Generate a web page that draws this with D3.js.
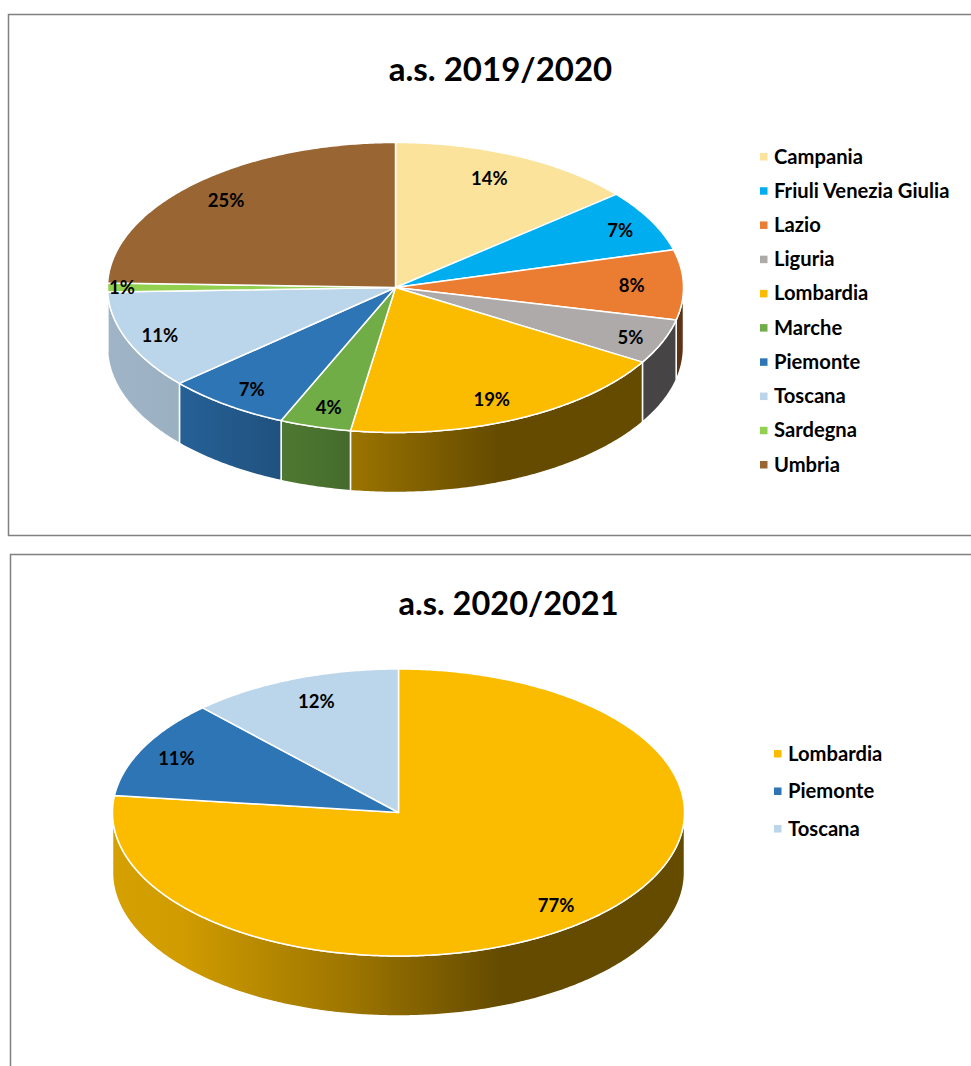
<!DOCTYPE html>
<html>
<head>
<meta charset="utf-8">
<script src="https://cdn.jsdelivr.net/npm/d3@7"></script>
<style>
    html, body { margin: 0; padding: 0; background: #fff; }
    svg { display: block; }
    text { font-family: Lato, "Open Sans", sans-serif; font-weight: 700; fill: #000; }
</style>
</head>
<body>
<svg id="chart"></svg>
<script>
// a.s. 2019/2020
let regions2019 = ["Campania", "Friuli Venezia Giulia", "Lazio", "Liguria", "Lombardia", "Marche", "Piemonte", "Toscana", "Sardegna", "Umbria"];
let values2019 = [13.9, 6.9, 7.8, 5.0, 18.9, 4.0, 7.0, 11.0, 1.0, 24.5];
let labels2019 = ["14%", "7%", "8%", "5%", "19%", "4%", "7%", "11%", "1%", "25%"];
let colors2019 = ["#fbe39b", "#00aeef", "#eb7d32", "#aeaaaa", "#fbbc00", "#70ad47", "#2e75b6", "#bbd5ea", "#92d050", "#996633"];
// how far along the slice's middle each label sits, across and down
let reachX2019 = [0.77, 0.88, 0.82, 0.88, 0.79, 0.83, 0.85, 0.88, 0.95, 0.845];
let reachY2019 = [0.83, 0.85, 0.82, 0.92, 0.85, 0.86, 0.87, 0.90, 0.95, 0.84];

// a.s. 2020/2021
let regions2020 = ["Lombardia", "Piemonte", "Toscana"];
let values2020 = [76.9, 11.1, 12.0];
let labels2020 = ["77%", "11%", "12%"];
let colors2020 = ["#fbbc00", "#2e75b6", "#bbd5ea"];
let reachX2020 = [0.83, 0.87, 0.78];
let reachY2020 = [0.87, 0.83, 0.83];

// darkening of the side wall from the left to the right of the pie
let shadeAt = [0, 0.12, 0.3, 0.42, 0.5, 0.68, 1];
let shadeBy = [0.85, 0.83, 0.7, 0.62, 0.55, 0.4, 0.4];

let w = 971;
let h = 1066;

let svg = d3.select("#chart")
    .attr("width", w)
    .attr("height", h);

let defs = svg.append("defs");

// frames
let frameLine = d3.line();
svg.append("path")
    .attr("d", frameLine([[971, 14.5], [8.5, 14.5], [8.5, 535.5], [971, 535.5]]))
    .attr("fill", "none")
    .attr("stroke", "#808080")
    .attr("stroke-width", 1.5);
svg.append("path")
    .attr("d", frameLine([[971, 554.5], [10.5, 554.5], [10.5, 1066]]))
    .attr("fill", "none")
    .attr("stroke", "#808080")
    .attr("stroke-width", 1.5);

function drawPie(c) {
    let g = svg.append("g");

    let pie = d3.pie().sort(null).value(d => d);
    let slices = pie(c.values);

    // d3 pie angle (clockwise from the top) -> point on the flat ellipse
    let xAt = a => c.cx + c.rx * Math.sin(a);
    let yAt = a => c.cy - c.ry * Math.cos(a);

    function arcPoints(a0, a1, drop) {
        let n = Math.max(2, Math.ceil(Math.abs(a1 - a0) / 0.01));
        return d3.range(n + 1).map(i => {
            let a = a0 + (a1 - a0) * i / n;
            return [xAt(a), yAt(a) + drop];
        });
    }

    let line = d3.line();
    let shadeScale = d3.scaleLinear().domain(shadeAt).range(shadeBy);

    // side walls, only the front half of the pie has them
    slices.forEach((s, i) => {
        let a0 = Math.max(s.startAngle, Math.PI / 2);
        let a1 = Math.min(s.endAngle, Math.PI * 3 / 2);
        if (a1 <= a0) return;

        let id = c.id + "-wall-" + i;
        let grad = defs.append("linearGradient")
            .attr("id", id)
            .attr("gradientUnits", "userSpaceOnUse")
            .attr("x1", c.cx - c.rx)
            .attr("x2", c.cx + c.rx)
            .attr("y1", 0)
            .attr("y2", 0);
        shadeAt.forEach(t => {
            let k = shadeScale(t);
            let col = d3.rgb(c.colors[i]);
            grad.append("stop")
                .attr("offset", t)
                .attr("stop-color", d3.rgb(col.r * k, col.g * k, col.b * k).formatHex());
        });

        let top = arcPoints(a0, a1, 0);
        let bottom = arcPoints(a1, a0, c.depth);
        g.append("path")
            .attr("d", line(top.concat(bottom)) + "Z")
            .attr("fill", `url(#${id})`)
            .attr("stroke", "#fff")
            .attr("stroke-width", 1.5)
            .attr("stroke-linejoin", "round");
    });

    // top faces
    g.selectAll(".face")
        .data(slices)
        .join("path")
        .attr("class", "face")
        .attr("d", d => line([[c.cx, c.cy]].concat(arcPoints(d.startAngle, d.endAngle, 0))) + "Z")
        .attr("fill", (d, i) => c.colors[i])
        .attr("stroke", "#fff")
        .attr("stroke-width", 1.5)
        .attr("stroke-linejoin", "round");

    // data labels
    g.selectAll(".value")
        .data(slices)
        .join("text")
        .attr("class", "value")
        .attr("x", (d, i) => c.cx + c.rx * c.reachX[i] * Math.sin((d.startAngle + d.endAngle) / 2))
        .attr("y", (d, i) => c.cy - c.ry * c.reachY[i] * Math.cos((d.startAngle + d.endAngle) / 2))
        .attr("text-anchor", "middle")
        .attr("dy", "0.35em")
        .attr("font-size", c.labelSize)
        .text((d, i) => c.labels[i]);

    // title
    g.append("text")
        .attr("x", c.titleX)
        .attr("y", c.titleY)
        .attr("text-anchor", "middle")
        .attr("font-size", c.titleSize)
        .text(c.title);

    // legend
    let legendY = d3.scalePoint()
        .domain(c.regions)
        .range(c.legendRange);
    let entry = g.selectAll(".entry")
        .data(c.regions)
        .join("g")
        .attr("class", "entry")
        .attr("transform", d => `translate(${c.legendX}, ${legendY(d)})`);
    entry.append("rect")
        .attr("x", 0)
        .attr("y", -3.5)
        .attr("width", 7.5)
        .attr("height", 7.5)
        .attr("fill", (d, i) => c.colors[i]);
    entry.append("text")
        .attr("x", 14)
        .attr("dy", "0.35em")
        .attr("font-size", 20.2)
        .text(d => d);
}

drawPie({
    id: "p2019", title: "a.s. 2019/2020", titleX: 500.5, titleY: 81, titleSize: 33,
    regions: regions2019, values: values2019, labels: labels2019, colors: colors2019,
    reachX: reachX2019, reachY: reachY2019,
    cx: 395.5, cy: 287.5, rx: 288, ry: 145, depth: 60, labelSize: 18.5,
    legendX: 760, legendRange: [156.5, 464.5]
});

drawPie({
    id: "p2020", title: "a.s. 2020/2021", titleX: 508.5, titleY: 615, titleSize: 32.5,
    regions: regions2020, values: values2020, labels: labels2020, colors: colors2020,
    reachX: reachX2020, reachY: reachY2020,
    cx: 398.5, cy: 812.5, rx: 286, ry: 143.5, depth: 60, labelSize: 18.5,
    legendX: 774, legendRange: [753.5, 828.5]
});
</script>
</body>
</html>
